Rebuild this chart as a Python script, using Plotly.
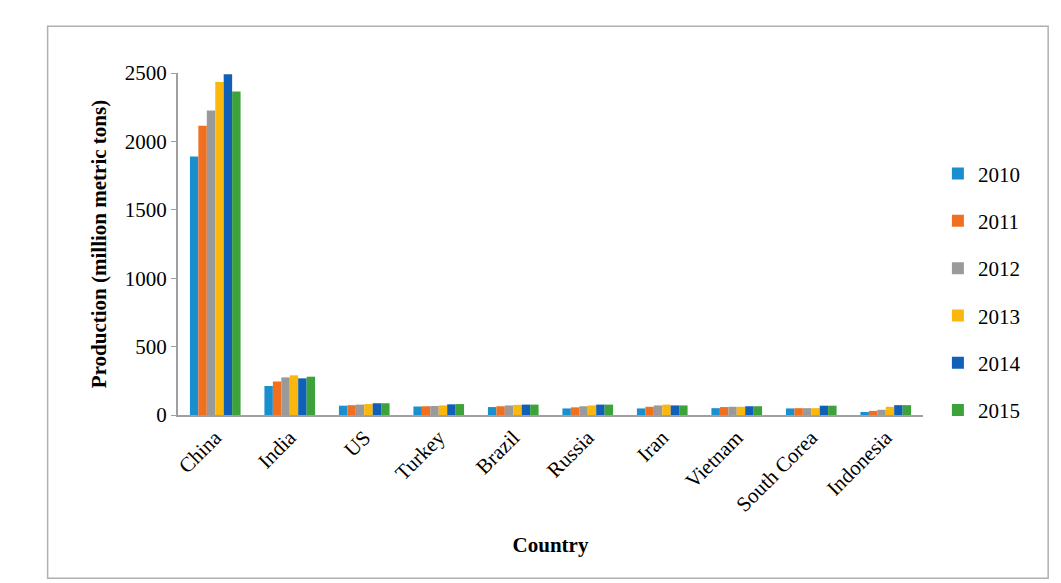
import plotly.graph_objects as go

countries = ["China", "India", "US", "Turkey", "Brazil", "Russia", "Iran", "Vietnam", "South Corea", "Indonesia"]
years = ["2010", "2011", "2012", "2013", "2014", "2015"]
colors = ["#1a8fd0", "#f07020", "#9a9a9a", "#fbb80c", "#1060b8", "#3ea23a"]

production = {
    "2010": [1890, 212, 68, 62, 58, 48, 48, 50, 48, 22],
    "2011": [2115, 245, 72, 64, 64, 56, 60, 58, 50, 30],
    "2012": [2225, 275, 76, 66, 70, 64, 70, 60, 50, 38],
    "2013": [2435, 290, 80, 70, 74, 70, 76, 60, 50, 60],
    "2014": [2490, 268, 86, 78, 76, 76, 70, 64, 68, 72],
    "2015": [2365, 280, 86, 80, 76, 76, 70, 64, 68, 72],
}

font = "Palatino Linotype, Book Antiqua, Liberation Serif, DejaVu Serif, serif"

fig = go.Figure()
for yr, c in zip(years, colors):
    fig.add_trace(go.Bar(x=countries, y=production[yr], name=yr, legendgroup=yr,
                         marker=dict(color=c, line=dict(width=0))))

fig.update_layout(
    width=1061, height=583,
    paper_bgcolor="white", plot_bgcolor="white",
    barmode="group", bargap=0.32, bargroupgap=0,
    font=dict(family=font, size=21, color="black"),
    margin=dict(l=170, r=146, t=65, b=176),
    legend=dict(x=1.02, y=0.36, yanchor="middle", font=dict(size=21), tracegroupgap=17,
                itemsizing="constant", traceorder="grouped"),
    shapes=[dict(type="rect", xref="paper", yref="paper", x0=-0.175, x1=1.168, y0=-0.477, y1=1.137,
                 line=dict(color="#b0b0b0", width=1.5))],
)
fig.update_xaxes(title=dict(text="<b>Country</b>", font=dict(size=21), standoff=22), tickangle=-45,
                 showline=True, linecolor="#a0a0a0", linewidth=2, ticks="")
fig.update_yaxes(title=dict(text="<b>Production (million metric tons)</b>", font=dict(size=21), standoff=12),
                 range=[0, 2500], dtick=500, showgrid=False, showline=True,
                 linecolor="#a0a0a0", linewidth=2, ticks="outside", ticklen=5, tickcolor="#a0a0a0")

fig.write_html("out.html")
